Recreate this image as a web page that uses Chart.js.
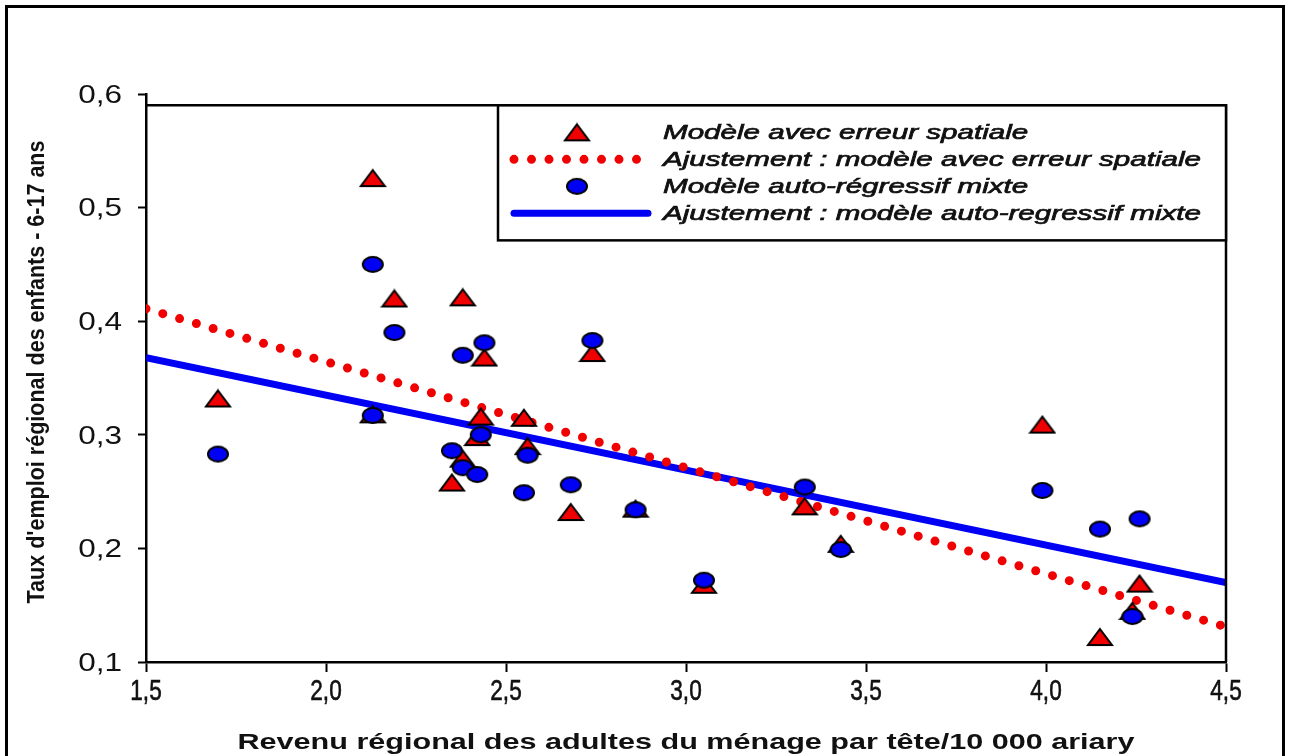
<!doctype html>
<html>
    <head>
        <title>Taux d'emploi des enfants et revenu régional</title>
        <script src="https://cdn.jsdelivr.net/npm/chart.js@4/dist/chart.umd.min.js"></script>
        <style>
            body { margin: 0; background: #fff; }
            #wrap { width: 1289px; height: 756px; }
        </style>
    </head>

    <body>
        <div id="wrap"><canvas id="myChart" width="1289" height="756"></canvas></div>
        <script>
            // revenu régional des adultes / 10 000 ariary (une valeur par région)
            var revenu = [1.70, 2.13, 2.13, 2.19, 2.38, 2.44, 2.74, 2.43, 2.35, 2.38, 2.42,
                          2.56, 2.55, 2.68, 2.86, 3.33, 3.43, 3.05, 3.99, 4.15, 4.26, 4.24];
            // modèle avec erreur spatiale (triangles)
            var erreurSpatiale = [0.332, 0.526, 0.318, 0.420, 0.421, 0.368, 0.372, 0.316, 0.258, 0.279, 0.298,
                                  0.290, 0.315, 0.232, 0.235, 0.237, 0.204, 0.168, 0.309, 0.122, 0.169, 0.145];
            // modèle auto-régressif mixte (cercles)
            var autoRegressif = [0.283, 0.450, 0.317, 0.390, 0.370, 0.381, 0.383, 0.300, 0.286, 0.271, 0.265,
                                 0.282, 0.249, 0.256, 0.234, 0.254, 0.199, 0.172, 0.251, 0.217, 0.226, 0.140];
            // droites d'ajustement, lues aux bords de l'axe
            var ajustX = [1.5, 4.5];
            var ajustSpatiale = [0.411, 0.131];
            var ajustMixte = [0.368, 0.170];

            var xTickValues = [1.5, 2.0, 2.5, 3.0, 3.5, 4.0, 4.5];
            var xTickLabels = ['1,5', '2,0', '2,5', '3,0', '3,5', '4,0', '4,5'];
            var yTickValues = [0.1, 0.2, 0.3, 0.4, 0.5, 0.6];
            var yTickLabels = ['0,1', '0,2', '0,3', '0,4', '0,5', '0,6'];

            var labels = [
                'Modèle avec erreur spatiale',
                'Ajustement : modèle avec erreur spatiale',
                'Modèle auto-régressif mixte',
                'Ajustement : modèle auto-regressif mixte'
            ];
            var xTitle = 'Revenu régional des adultes du ménage par tête/10 000 ariary';
            var yTitle = "Taux d'emploi régional des enfants - 6-17 ans";

            var RED = 'rgb(240, 0, 0)';
            var BLUE = 'rgb(0, 0, 245)';
            var SANS = '"Liberation Sans", Arial, sans-serif';

            function pairs(xs, ys) {
                var out = [];
                for (var i = 0; i < xs.length; i++) {
                    out.push({ x: xs[i], y: ys[i] });
                }
                return out;
            }

            // markers are a bit wider than tall, as in the original figure
            function makeTriangle(w, h) {
                var c = document.createElement('canvas');
                c.width = w + 4; c.height = h + 4;
                var g = c.getContext('2d');
                g.beginPath();
                g.moveTo(c.width / 2, 2);
                g.lineTo(c.width - 2, c.height - 2);
                g.lineTo(2, c.height - 2);
                g.closePath();
                g.fillStyle = RED;
                g.fill();
                g.lineWidth = 2;
                g.strokeStyle = '#000';
                g.stroke();
                return c;
            }

            function makeEllipse(w, h) {
                var c = document.createElement('canvas');
                c.width = w + 4; c.height = h + 4;
                var g = c.getContext('2d');
                g.beginPath();
                g.ellipse(c.width / 2, c.height / 2, w / 2, h / 2, 0, 0, Math.PI * 2);
                g.fillStyle = BLUE;
                g.fill();
                g.lineWidth = 2;
                g.strokeStyle = '#000';
                g.stroke();
                return c;
            }

            var triImg = makeTriangle(24, 16);
            var dotImg = makeEllipse(20, 15);

            function stretchText(ctx, text, x, y, font, sx, sy, rotate, align, heavy) {
                ctx.save();
                ctx.font = font;
                ctx.translate(x, y);
                if (rotate) ctx.rotate(-Math.PI / 2);
                ctx.scale(sx, sy);
                ctx.textAlign = align || 'center';
                ctx.textBaseline = 'middle';
                ctx.fillStyle = '#111';
                ctx.fillText(text, 0, 0);
                if (heavy) {
                    ctx.strokeStyle = '#111';
                    ctx.lineWidth = heavy;
                    ctx.strokeText(text, 0, 0);
                }
                ctx.restore();
            }

            var decor = {
                id: 'decor',
                afterDraw: function (chart) {
                    var ctx = chart.ctx;
                    var area = chart.chartArea;
                    var xs = chart.scales.x, ys = chart.scales.y;
                    var yTop = ys.getPixelForValue(0.59);

                    ctx.save();
                    // outer frame
                    ctx.strokeStyle = '#000';
                    ctx.lineWidth = 3;
                    ctx.strokeRect(6.5, 6.5, 1277, 800);

                    // top and right frame of the plot
                    ctx.lineWidth = 2.5;
                    ctx.beginPath();
                    ctx.moveTo(area.left, yTop);
                    ctx.lineTo(area.right, yTop);
                    ctx.lineTo(area.right, area.bottom);
                    ctx.stroke();

                    // tick labels (narrow on x, wide on y like the source)
                    for (var i = 0; i < xTickValues.length; i++) {
                        stretchText(ctx, xTickLabels[i], xs.getPixelForValue(xTickValues[i]), 692,
                                    '29px ' + SANS, 0.78, 1, false, 'center', 0.6);
                    }
                    for (var j = 0; j < yTickValues.length; j++) {
                        stretchText(ctx, yTickLabels[j], 122, ys.getPixelForValue(yTickValues[j]) + 2,
                                    '25px ' + SANS, 1.26, 1, false, 'right');
                    }

                    // legend box
                    var bx = 498, by = yTop, bw = area.right - 498, bh = 135;
                    ctx.fillStyle = '#fff';
                    ctx.fillRect(bx, by, bw, bh);
                    ctx.strokeRect(bx, by, bw, bh);

                    var rows = [by + 27, by + 54, by + 81, by + 108];
                    ctx.drawImage(triImg, 577 - triImg.width / 2, rows[0] - triImg.height / 2);
                    ctx.drawImage(dotImg, 577 - dotImg.width / 2, rows[2] - dotImg.height / 2);

                    ctx.lineCap = 'round';
                    ctx.lineWidth = 9;
                    ctx.strokeStyle = RED;
                    ctx.setLineDash([0, 17.5]);
                    ctx.beginPath();
                    ctx.moveTo(514, rows[1]);
                    ctx.lineTo(648, rows[1]);
                    ctx.stroke();
                    ctx.setLineDash([]);
                    ctx.lineWidth = 7;
                    ctx.strokeStyle = BLUE;
                    ctx.beginPath();
                    ctx.moveTo(514, rows[3]);
                    ctx.lineTo(648, rows[3]);
                    ctx.stroke();

                    var legFont = 'italic 21px ' + SANS;
                    ctx.font = legFont;
                    var lsx = 538 / ctx.measureText(labels[1]).width;
                    for (var k = 0; k < labels.length; k++) {
                        stretchText(ctx, labels[k], 663, rows[k] + 1, legFont, lsx, 1, false, 'left', 0.7);
                    }

                    // axis titles
                    var xFont = 'bold 22px ' + SANS;
                    ctx.font = xFont;
                    var xsx = 897 / ctx.measureText(xTitle).width;
                    stretchText(ctx, xTitle, (area.left + area.right) / 2, 743, xFont, xsx, 1, false);

                    var yFont = 'bold 18px ' + SANS;
                    ctx.font = yFont;
                    var ysx = 463 / ctx.measureText(yTitle).width;
                    stretchText(ctx, yTitle, 38, 372, yFont, ysx, 1.3, true);
                    ctx.restore();
                }
            };

            var ctx = document.getElementById('myChart').getContext('2d');
            var myChart = new Chart(ctx, {
                type: 'scatter',
                data: {
                    datasets: [
                        {
                            label: labels[0],
                            data: pairs(revenu, erreurSpatiale),
                            pointStyle: triImg,
                            order: 1
                        },
                        {
                            label: labels[1],
                            data: pairs(ajustX, ajustSpatiale),
                            showLine: true,
                            pointRadius: 0,
                            borderColor: RED,
                            borderWidth: 9,
                            borderDash: [0, 17.5],
                            borderCapStyle: 'round',
                            order: 2
                        },
                        {
                            label: labels[2],
                            data: pairs(revenu, autoRegressif),
                            pointStyle: dotImg,
                            order: 0
                        },
                        {
                            label: labels[3],
                            data: pairs(ajustX, ajustMixte),
                            showLine: true,
                            pointRadius: 0,
                            borderColor: BLUE,
                            borderWidth: 7,
                            order: 3
                        }
                    ]
                },
                options: {
                    responsive: false,
                    animation: false,
                    events: [],
                    layout: {
                        padding: { top: 94, right: 63, left: 0, bottom: 0 }
                    },
                    plugins: {
                        legend: { display: false },
                        tooltip: { enabled: false }
                    },
                    scales: {
                        x: {
                            type: 'linear',
                            min: 1.5,
                            max: 4.5,
                            afterFit: function (scale) { scale.height = 94; },
                            afterBuildTicks: function (scale) {
                                scale.ticks = xTickValues.map(function (v) { return { value: v }; });
                            },
                            ticks: { display: false },
                            grid: {
                                drawOnChartArea: false,
                                drawTicks: true,
                                tickLength: 10,
                                tickWidth: 2,
                                tickColor: '#000'
                            },
                            border: { color: '#000', width: 2.5 }
                        },
                        y: {
                            min: 0.1,
                            max: 0.6,
                            afterFit: function (scale) { scale.width = 146; },
                            afterBuildTicks: function (scale) {
                                scale.ticks = yTickValues.map(function (v) { return { value: v }; });
                            },
                            ticks: { display: false },
                            grid: {
                                drawOnChartArea: false,
                                drawTicks: true,
                                tickLength: 8,
                                tickWidth: 2,
                                tickColor: '#000'
                            },
                            border: { color: '#000', width: 2.5 }
                        }
                    }
                },
                plugins: [decor]
            });
        </script>
    </body>

</html>
